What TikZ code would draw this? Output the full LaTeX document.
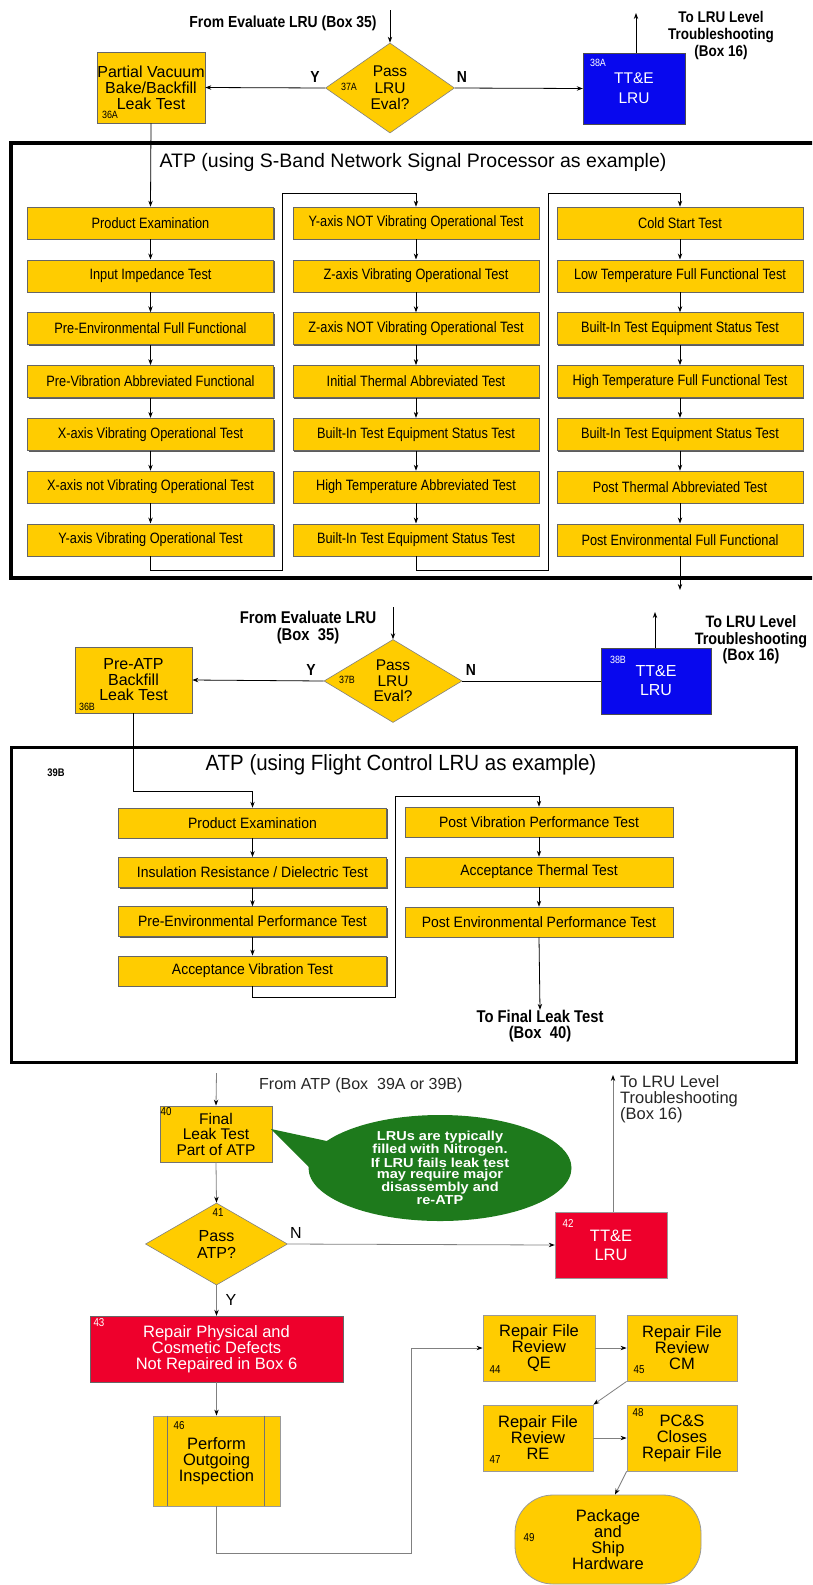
\documentclass[tikz,border=0pt]{standalone}
\usepackage{fontspec}
\setmainfont{Liberation Sans}
\newfontfamily\nfA[FakeStretch=0.85]{Liberation Sans}
\newfontfamily\nfB[FakeStretch=0.93]{Liberation Sans}
\newfontfamily\nfC[FakeStretch=0.87]{Liberation Sans}
\newfontfamily\nfD[FakeStretch=1.12]{Liberation Sans}
\newcommand{\fsz}[2]{\fontsize{#1}{#2}\selectfont}
\usetikzlibrary{shapes.geometric,arrows.meta,shadows}
\definecolor{gold}{RGB}{255,204,0}
\definecolor{lrublue}{RGB}{8,8,238}
\definecolor{lrured}{RGB}{238,0,44}
\definecolor{bubble}{RGB}{30,122,28}
\begin{document}
\begin{tikzpicture}[x=1pt,y=-1pt,
  >={Stealth[length=6pt,width=4.4pt]},
  every node/.style={inner sep=0pt, align=center},
  shad/.style={drop shadow={shadow xshift=1.4pt, shadow yshift=-1.4pt, opacity=0.85, fill=black!75}},
  gbox/.style={draw=black!60, line width=0.6pt, fill=gold},
  rowA/.style={gbox, shad, minimum width=246pt, minimum height=32pt, font=\nfA\fsz{15}{17}},
  rowB/.style={gbox, shad, minimum width=268pt, minimum height=30pt, font=\nfB\fsz{15}{17}},
  dia/.style={diamond, draw=black!50, line width=0.6pt, fill=gold},
  num/.style={font=\nfA\fsz{10.5}{11}},
  numC/.style={font=\nfA\fsz{11.5}{12}},
  lab/.style={font=\nfC\bfseries\fsz{16}{17}},
  cbox/.style={draw=black!40, line width=0.8pt, fill=gold, font=\fsz{16.5}{16}},
  wA/.style={line width=0.8pt},
  wC/.style={draw=black!50, line width=0.8pt},
  arC/.style={-{Stealth[length=6pt,width=4.4pt,color=black]}}
]
\useasboundingbox (0,0) rectangle (812,1585);
\fill[white] (0,0) rectangle (812,1585);
\clip (0,0) rectangle (812,1585);

% ---------------- Section 1 top ----------------
\node[lab] (from1) at (283,23) {From Evaluate LRU (Box 35)};
\coordinate (in1) at (390,10);
\node[dia, minimum width=129pt, minimum height=90pt, font=\fsz{15.5}{16.5}] (n37a) at (390,88) {Pass\\LRU\\Eval?};
\node[num] at (349,87) {37A};
\node[gbox, shad, minimum width=108pt, minimum height=71pt, font=\fsz{16}{16}] (n36a) at (151,87.5) {Partial Vacuum\\Bake/Backfill\\Leak Test};
\node[num] at (110,115) {36A};
\node[draw=black!70, fill=lrublue, minimum width=102pt, minimum height=71pt, text=white, font=\fsz{15.5}{20}] (n38a) at (634,88.5) {TT\&E\\LRU};
\node[num, text=white] at (598,63) {38A};
\draw[->,wA] (in1) -- (n37a.north);
\draw[->,wA] (n37a.west) -- (n36a.east);
\draw[->,wA] (n37a.east) -- (n38a.west);
\node[lab] at (315,77) {Y};
\node[lab] at (462,77) {N};
\coordinate (out1) at (636,13);
\draw[->,wA] (n38a.north -| out1) -- (out1);
\node[lab, font=\nfC\bfseries\fsz{15.5}{17}] (to1) at (721,35) {To LRU Level\\Troubleshooting\\(Box 16)};

% frame 1
\draw[line width=3.2pt] (11,143) rectangle (840,578);
\node[font=\fsz{19.5}{20}] (title1) at (413,162) {ATP (using S-Band Network Signal Processor as example)};

\foreach \t [count=\i] in {Product Examination, Input Impedance Test, Pre-Environmental Full Functional, Pre-Vibration Abbreviated Functional, X-axis Vibrating Operational Test, X-axis not Vibrating Operational Test, Y-axis Vibrating Operational Test}
  \node[rowA] (p\i) at (150.5,170.2+52.8*\i) {\t};
\foreach \t [count=\i] in {Y-axis NOT Vibrating Operational Test, Z-axis Vibrating Operational Test, Z-axis NOT Vibrating Operational Test, Initial Thermal Abbreviated Test, Built-In Test Equipment Status Test, High Temperature Abbreviated Test, Built-In Test Equipment Status Test}
  \node[rowA] (q\i) at (416,170.2+52.8*\i) {\t};
\foreach \t [count=\i] in {Cold Start Test, Low Temperature Full Functional Test, Built-In Test Equipment Status Test, High Temperature Full Functional Test, Built-In Test Equipment Status Test, Post Thermal Abbreviated Test, Post Environmental Full Functional}
  \node[rowA] (r\i) at (680,170.2+52.8*\i) {\t};
\foreach \i/\j in {1/2,2/3,3/4,4/5,5/6,6/7} {
  \draw[->,wA] (p\i.south) -- (p\j.north);
  \draw[->,wA] (q\i.south) -- (q\j.north);
  \draw[->,wA] (r\i.south) -- (r\j.north);
}
\draw[->,wA] (n36a.south) -- (p1.north);
\draw[->,wA] (p7.south) -- ++(0,14.2) -| (282,193) -| (q1.north);
\draw[->,wA] (q7.south) -- ++(0,14.2) -| (548,193) -| (r1.north);
\coordinate (out2) at (680,590);
\draw[->,wA] (r7.south) -- (out2);

% ---------------- Section 2 ----------------
\node[lab, font=\nfC\bfseries\fsz{17}{17}] (from2) at (308,628) {From Evaluate LRU\\(Box~ 35)};
\coordinate (in2) at (393,607);
\node[dia, minimum width=138pt, minimum height=83pt, font=\fsz{15.5}{15.5}] (n37b) at (393,681) {Pass\\LRU\\Eval?};
\node[num] at (347,680) {37B};
\node[gbox, shad, minimum width=117pt, minimum height=66pt, font=\fsz{16}{15.5}] (n36b) at (133.5,680) {Pre-ATP\\Backfill\\Leak Test};
\node[num] at (87,707) {36B};
\node[draw=black!70, fill=lrublue, minimum width=110pt, minimum height=66pt, text=white, font=\fsz{16}{19}] (n38b) at (656,681) {TT\&E\\LRU};
\node[num, text=white] at (618,660) {38B};
\draw[->,wA] (in2) -- (n37b.north);
\draw[->,wA] (n37b.west) -- (n36b.east);
\draw[wA] (n37b.east) -- (n38b.west);
\node[lab] at (311,670) {Y};
\node[lab] at (471,670) {N};
\coordinate (out3) at (655,612);
\draw[->,wA] (n38b.north -| out3) -- (out3);
\node[lab, font=\nfC\bfseries\fsz{16.5}{16.5}] (to2) at (751,640) {To LRU Level\\Troubleshooting\\(Box 16)};

% frame 2
\draw[line width=3pt] (11,747) rectangle (796,1062);
\node[font=\nfA\bfseries\fsz{11}{11}] at (56,773) {39B};
\node[font=\nfB\fsz{22}{22}] (title2) at (401,765) {ATP (using Flight Control LRU as example)};
\foreach \t [count=\i] in {Product Examination, Insulation Resistance / Dielectric Test, Pre-Environmental Performance Test, Acceptance Vibration Test}
  \node[rowB] (s\i) at (252.5,773.7+49.3*\i) {\t};
\foreach \t [count=\i] in {Post Vibration Performance Test, Acceptance Thermal Test, Post Environmental Performance Test}
  \node[rowB] (t\i) at (539,772+50*\i) {\t};
\foreach \i/\j in {1/2,2/3,3/4} \draw[->,wA] (s\i.south) -- (s\j.north);
\foreach \i/\j in {1/2,2/3} \draw[->,wA] (t\i.south) -- (t\j.north);
\draw[->,wA] (n36b.south) -- (133.5,791) -| (s1.north);
\draw[->,wA] (s4.south) -- ++(0,11) -| (395,796) -| (t1.north);
\node[lab, font=\nfC\bfseries\fsz{17}{16}] (fin) at (540,1026) {To Final Leak Test\\(Box~ 40)};
\draw[->,wA] (t3.south) -- (fin.north);

% ---------------- Section 3 ----------------
\node[font=\fsz{16}{16}, text=black!85, anchor=west] (fromatp) at (259,1085) {From ATP (Box~ 39A or 39B)};
\coordinate (in3) at (216.5,1073);
\node[cbox, draw=black!55, minimum width=112pt, minimum height=56pt, font=\fsz{15.5}{15.5}] (n40) at (216,1134) {Final\\Leak Test\\Part of ATP};
\node[numC] at (166,1112) {40};
\draw[wC, arC] (in3) -- (n40.north);

% speech bubble
\fill[bubble] (271,1129) -- (336,1143) -- (314,1172) -- cycle;
\node[ellipse, fill=bubble, minimum width=263pt, minimum height=106pt, text=white, font=\nfD\bfseries\fsz{13}{11.6}] (bub) at (440,1168) {LRUs are typically\\filled with Nitrogen.\\If LRU fails leak test\\may require major\\disassembly and\\re-ATP};

\node[dia, minimum width=142pt, minimum height=82pt, font=\fsz{16}{17}] (n41) at (216.5,1244) {Pass\\ATP?};
\node[numC] at (218,1213) {41};
\draw[wC, arC] (n40.south) -- (n41.north);
\node[font=\fsz{16}{16}] at (296,1233) {N};
\node[draw=black!40, fill=lrured, minimum width=112pt, minimum height=66pt, text=white, font=\fsz{16.5}{19}] (n42) at (611,1245) {TT\&E\\LRU};
\node[numC, text=white] at (568,1223) {42};
\draw[wC, arC] (n41.east) -- (n42.west);
\coordinate (out4) at (613,1075);
\draw[wC, arC] (n42.north -| out4) -- (out4);
\node[anchor=west, align=left, font=\fsz{16.5}{16}, text=black!85] (to3) at (620,1099) {To LRU Level\\Troubleshooting\\(Box 16)};

\node[draw=black!60, fill=lrured, minimum width=253pt, minimum height=66pt, text=white, font=\fsz{16.5}{16}] (n43) at (216.5,1349) {Repair Physical and\\Cosmetic Defects\\Not Repaired in Box 6};
\node[numC, text=white] at (99,1323) {43};
\draw[wC, arC] (n41.south) -- (n43.north);
\node[font=\fsz{16}{16}] at (231,1300) {Y};

\node[cbox, minimum width=127pt, minimum height=90pt] (n46) at (216.5,1461) {Perform\\Outgoing\\Inspection};
\draw[black!55, line width=0.8pt] ([xshift=15pt]n46.north west) -- ([xshift=15pt]n46.south west);
\draw[black!55, line width=0.8pt] ([xshift=-16pt]n46.north east) -- ([xshift=-16pt]n46.south east);
\node[numC] at (179,1426) {46};
\draw[wC, arC] (n43.south) -- (n46.north);

\node[cbox] [minimum width=112pt, minimum height=66pt] (n44) at (539,1348) {Repair File\\Review\\QE};
\node[numC] at (495,1370) {44};
\node[cbox] [minimum width=110pt, minimum height=66pt] (n45) at (682,1348) {Repair File\\Review\\CM};
\node[numC] at (639,1370) {45};
\node[cbox] [minimum width=110pt, minimum height=66pt] (n47) at (538,1438) {Repair File\\Review\\RE};
\node[numC] at (495,1460) {47};
\node[cbox] [minimum width=110pt, minimum height=66pt] (n48) at (682,1438) {PC\&S\\Closes\\Repair File};
\node[numC] at (638,1413) {48};
\node[cbox, rounded corners=38pt, minimum width=186pt, minimum height=89pt] (n49) at (608,1539.5) {Package\\and\\Ship\\Hardware};
\node[numC] at (529,1538) {49};

\draw[wC, arC] (n46.south) -- ++(0,47) -| (411,1348) -- (n44.west);
\draw[wC, arC] (n44.east) -- (n45.west);
\draw[wC, arC] (n45.south west) -- (n47.north east);
\draw[wC, arC] (n47.east) -- (n48.west);
\draw[wC, arC] (n48.south west) -- ([xshift=7pt]n49.north);
\end{tikzpicture}
\end{document}
